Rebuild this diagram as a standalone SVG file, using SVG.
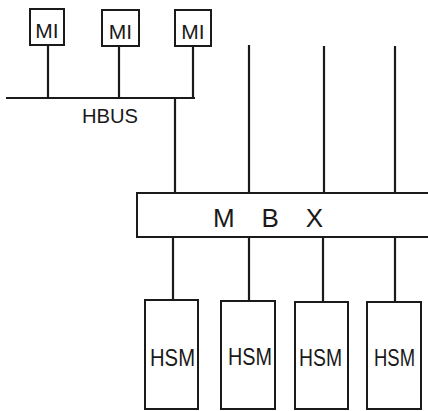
<svg xmlns="http://www.w3.org/2000/svg" width="428" height="411" viewBox="0 0 428 411">
<style>
.box{fill:#fff;stroke:#1a1a1a;stroke-width:2}
.ln{fill:none;stroke:#1a1a1a;stroke-width:2.2;stroke-linecap:butt}
.t{font-family:"Liberation Sans",Arial,sans-serif;fill:#1a1a1a}
</style>
<rect width="428" height="411" fill="#fff"/>
<g id="connectors">
<line class="ln" x1="48" y1="45" x2="48" y2="98"/>
<line class="ln" x1="119" y1="46" x2="119" y2="98"/>
<line class="ln" x1="193" y1="46" x2="193" y2="98"/>
<line class="ln" x1="6" y1="98" x2="195" y2="98"/>
<line class="ln" x1="175" y1="98" x2="175" y2="193"/>
<line class="ln" x1="249" y1="45" x2="249" y2="193"/>
<line class="ln" x1="324" y1="46" x2="324" y2="193"/>
<line class="ln" x1="395" y1="46" x2="395" y2="193"/>
<line class="ln" x1="173" y1="237" x2="173" y2="300"/>
<line class="ln" x1="249" y1="237" x2="249" y2="301"/>
<line class="ln" x1="323" y1="237" x2="323" y2="302"/>
<line class="ln" x1="395" y1="237" x2="395" y2="302"/>
</g>
<g id="hbus">
<text class="t" x="82" y="123" font-size="21" textLength="56" lengthAdjust="spacingAndGlyphs">HBUS</text>
</g>
<g id="mi1">
<rect class="box" x="30" y="9" width="34" height="36"/>
<text class="t" x="47" y="38" font-size="21" text-anchor="middle">MI</text>
</g>
<g id="mi2">
<rect class="box" x="102" y="10" width="37" height="36"/>
<text class="t" x="120.5" y="39" font-size="21" text-anchor="middle">MI</text>
</g>
<g id="mi3">
<rect class="box" x="175" y="10" width="36" height="36"/>
<text class="t" x="193" y="39" font-size="21" text-anchor="middle">MI</text>
</g>
<g id="mbx">
<rect class="box" x="137" y="193" width="300" height="44"/>
<text class="t" x="213" y="227" font-size="26" textLength="110" lengthAdjust="spacing">M B X</text>
</g>
<g id="hsm1">
<rect class="box" x="145" y="300" width="53" height="109"/>
<text class="t" x="150" y="366" font-size="24" textLength="45" lengthAdjust="spacingAndGlyphs">HSM</text>
</g>
<g id="hsm2">
<rect class="box" x="221" y="301" width="54" height="108"/>
<text class="t" x="228" y="365" font-size="24" textLength="44" lengthAdjust="spacingAndGlyphs">HSM</text>
</g>
<g id="hsm3">
<rect class="box" x="295" y="302" width="53" height="107"/>
<text class="t" x="299" y="366" font-size="24" textLength="43" lengthAdjust="spacingAndGlyphs">HSM</text>
</g>
<g id="hsm4">
<rect class="box" x="367" y="302" width="54" height="107"/>
<text class="t" x="374" y="366" font-size="24" textLength="41" lengthAdjust="spacingAndGlyphs">HSM</text>
</g>
</svg>
